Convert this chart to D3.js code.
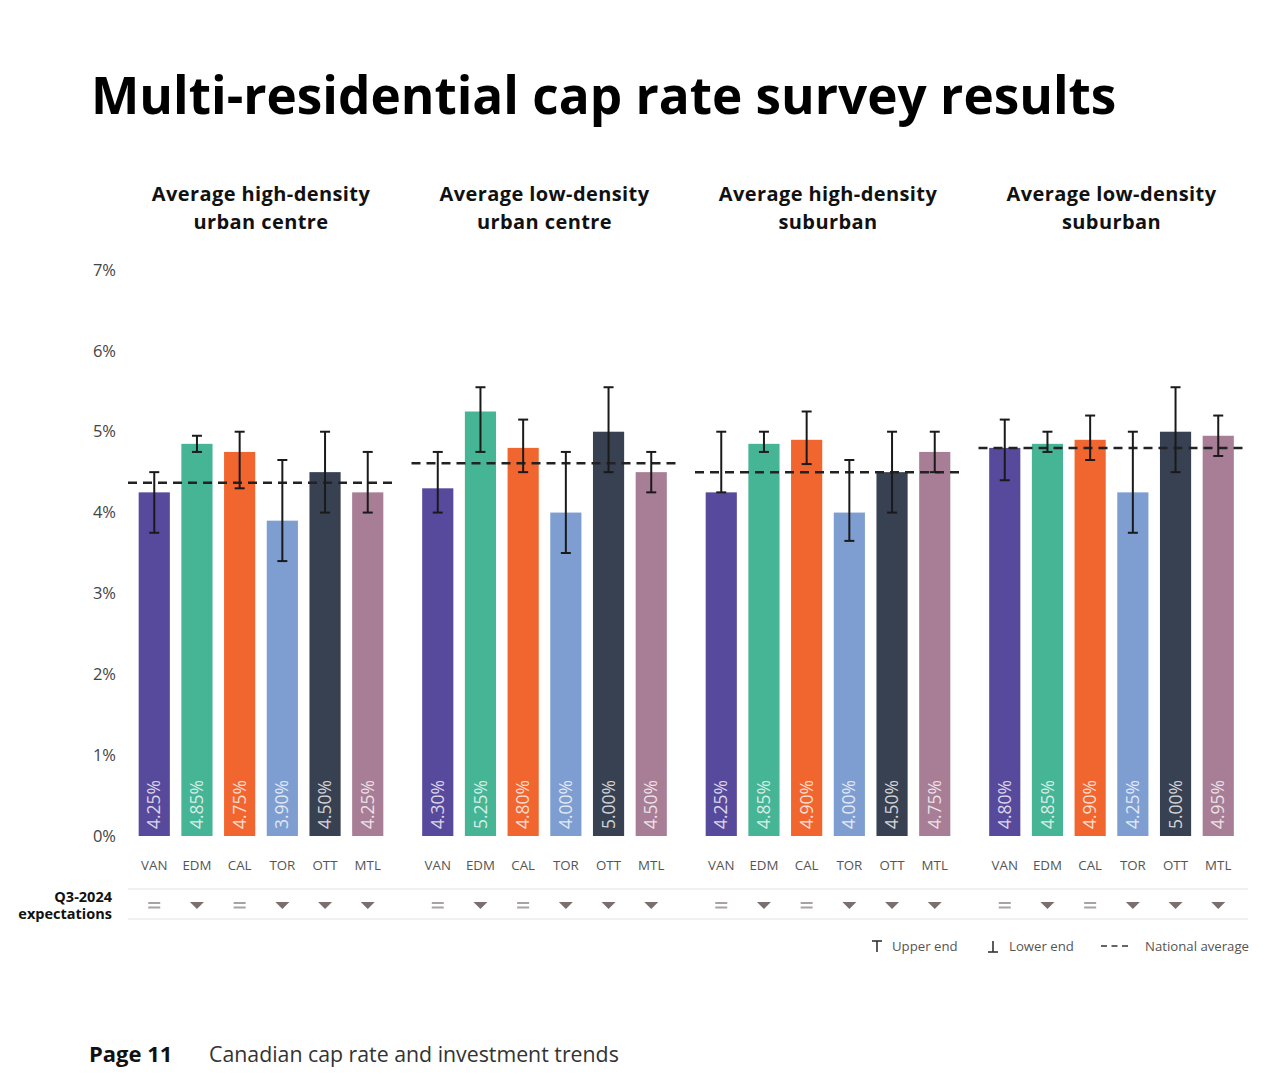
<!DOCTYPE html>
<html>
<head>
<meta charset="utf-8">
<title>Multi-residential cap rate survey results</title>
<script src="https://cdn.jsdelivr.net/npm/d3@7"></script>
<style>
  html, body { margin: 0; padding: 0; background: #fff; }
  svg { display: block; font-family: "Open Sans", "Noto Sans", sans-serif; }
</style>
</head>
<body>
<svg id="chart" width="1280" height="1083"></svg>
<script>
// ---- data ----
var groups = [
  ["Average high-density", "urban centre"],
  ["Average low-density", "urban centre"],
  ["Average high-density", "suburban"],
  ["Average low-density", "suburban"]
];
var cities = ["VAN", "EDM", "CAL", "TOR", "OTT", "MTL"];
var cityColors = ["#574a9d", "#45b596", "#f1652e", "#7e9ed2", "#374152", "#a77e96"];

// average cap rate (%), one row per group, one column per city
var values = [
  [4.25, 4.85, 4.75, 3.90, 4.50, 4.25],
  [4.30, 5.25, 4.80, 4.00, 5.00, 4.50],
  [4.25, 4.85, 4.90, 4.00, 4.50, 4.75],
  [4.80, 4.85, 4.90, 4.25, 5.00, 4.95]
];
var upperEnd = [
  [4.50, 4.95, 5.00, 4.65, 5.00, 4.75],
  [4.75, 5.55, 5.15, 4.75, 5.55, 4.75],
  [5.00, 5.00, 5.25, 4.65, 5.00, 5.00],
  [5.15, 5.00, 5.20, 5.00, 5.55, 5.20]
];
var lowerEnd = [
  [3.75, 4.75, 4.30, 3.40, 4.00, 4.00],
  [4.00, 4.75, 4.50, 3.50, 4.50, 4.25],
  [4.25, 4.75, 4.60, 3.65, 4.00, 4.50],
  [4.40, 4.75, 4.65, 3.75, 4.50, 4.70]
];
var nationalAvg = [4.37, 4.61, 4.50, 4.80];

// Q3-2024 expectations: "flat" or "down"
var expectations = [
  ["flat", "down", "flat", "down", "down", "down"],
  ["flat", "down", "flat", "down", "down", "down"],
  ["flat", "down", "flat", "down", "down", "down"],
  ["flat", "down", "flat", "down", "down", "down"]
];
var yTicks = [0, 1, 2, 3, 4, 5, 6, 7];

// ---- layout ----
var svg = d3.select("#chart");

var y = d3.scaleLinear().domain([0, 7]).range([836, 270]);

var gx = d3.scaleBand()
  .domain(d3.range(groups.length))
  .range([118, 1252]);

var cx = d3.scaleBand()
  .domain(cities)
  .range([10, 276])
  .paddingInner(0.27)
  .paddingOuter(0.25);

// title
svg.append("text")
  .attr("x", 91).attr("y", 114)
  .attr("font-size", 51.3).attr("font-weight", 700)
  .attr("fill", "#000")
  .text("Multi-residential cap rate survey results");

// y axis labels
svg.append("g").selectAll("text")
  .data(yTicks)
  .enter().append("text")
  .attr("x", 116)
  .attr("y", function(d) { return y(d); })
  .attr("dy", "0.35em")
  .attr("text-anchor", "end")
  .attr("font-size", 16.5)
  .attr("fill", "#444")
  .text(function(d) { return d + "%"; });

// each group
var g = svg.selectAll(".grp")
  .data(groups)
  .enter().append("g")
  .attr("class", "grp")
  .attr("transform", function(d, i) { return "translate(" + gx(i) + ",0)"; });

var groupMid = (cx(cities[0]) + cx(cities[5]) + cx.bandwidth()) / 2;

// group titles, one text per line
g.each(function(lines) {
  d3.select(this).selectAll("text.gtitle").data(lines).enter().append("text")
    .attr("class", "gtitle")
    .attr("x", groupMid)
    .attr("y", function(d, k) { return 201 + k * 27.5; })
    .attr("text-anchor", "middle")
    .attr("font-size", 20).attr("font-weight", 700)
    .attr("letter-spacing", 0.4)
    .attr("fill", "#111")
    .text(function(d) { return d; });
});

// bars
g.each(function(lines, gi) {
  var sel = d3.select(this);
  var rows = cities.map(function(c, k) {
    return { city: c, k: k, v: values[gi][k], hi: upperEnd[gi][k], lo: lowerEnd[gi][k], exp: expectations[gi][k] };
  });
  var mid = function(d) { return cx(d.city) + cx.bandwidth() / 2; };

  sel.selectAll("rect.bar").data(rows).enter().append("rect")
    .attr("class", "bar")
    .attr("x", function(d) { return cx(d.city); })
    .attr("y", function(d) { return y(d.v); })
    .attr("width", cx.bandwidth())
    .attr("height", function(d) { return y(0) - y(d.v); })
    .attr("fill", function(d) { return cityColors[d.k]; });

  // value labels (rotated)
  sel.selectAll("text.val").data(rows).enter().append("text")
    .attr("class", "val")
    .attr("transform", function(d) {
      return "translate(" + mid(d) + "," + (y(0) - 7) + ") rotate(-90)";
    })
    .attr("dy", "0.35em")
    .attr("font-size", 17.5)
    .attr("fill", "#fff")
    .attr("fill-opacity", 0.78)
    .text(function(d) { return d.v.toFixed(2) + "%"; });

  // national average dashed line
  sel.append("line")
    .attr("x1", cx.range()[0]).attr("x2", cx.range()[1])
    .attr("y1", y(nationalAvg[gi])).attr("y2", y(nationalAvg[gi]))
    .attr("stroke", "#222").attr("stroke-width", 2.5)
    .attr("stroke-dasharray", "9,6");

  // error bars
  var eb = sel.selectAll("g.err").data(rows).enter().append("g")
    .attr("class", "err")
    .attr("stroke", "#1a1a1a").attr("stroke-width", 2);
  eb.append("line")
    .attr("x1", mid).attr("x2", mid)
    .attr("y1", function(d) { return y(d.hi); })
    .attr("y2", function(d) { return y(d.lo); });
  eb.append("line")
    .attr("x1", function(d) { return mid(d) - 5; }).attr("x2", function(d) { return mid(d) + 5; })
    .attr("y1", function(d) { return y(d.hi); }).attr("y2", function(d) { return y(d.hi); });
  eb.append("line")
    .attr("x1", function(d) { return mid(d) - 5; }).attr("x2", function(d) { return mid(d) + 5; })
    .attr("y1", function(d) { return y(d.lo); }).attr("y2", function(d) { return y(d.lo); });

  // city labels
  sel.selectAll("text.city").data(rows).enter().append("text")
    .attr("class", "city")
    .attr("x", mid)
    .attr("y", 870)
    .attr("text-anchor", "middle")
    .attr("font-size", 13.3)
    .attr("fill", "#555")
    .text(function(d) { return d.city; });

  // expectation symbols
  var ex = sel.selectAll("g.exp").data(rows).enter().append("g")
    .attr("class", "exp")
    .attr("transform", function(d) { return "translate(" + mid(d) + ",905)"; });
  ex.filter(function(d) { return d.exp === "flat"; }).each(function() {
    var e = d3.select(this);
    e.append("line").attr("x1", -6).attr("x2", 6).attr("y1", -2).attr("y2", -2)
      .attr("stroke", "#a8a2a2").attr("stroke-width", 2);
    e.append("line").attr("x1", -6).attr("x2", 6).attr("y1", 2.5).attr("y2", 2.5)
      .attr("stroke", "#a8a2a2").attr("stroke-width", 2);
  });
  ex.filter(function(d) { return d.exp === "down"; }).append("path")
    .attr("d", "M-7,-3L7,-3L0,4Z")
    .attr("fill", "#7b6e6f");
});

// expectations row rules and label
[889, 919].forEach(function(yy) {
  svg.append("line")
    .attr("x1", 128).attr("x2", 1248)
    .attr("y1", yy).attr("y2", yy)
    .attr("stroke", "#e2e2e2").attr("stroke-width", 1);
});
svg.append("text")
  .attr("x", 112).attr("y", 902)
  .attr("text-anchor", "end")
  .attr("font-size", 14.5).attr("font-weight", 700).attr("fill", "#111")
  .text("Q3-2024");
svg.append("text")
  .attr("x", 112).attr("y", 919)
  .attr("text-anchor", "end")
  .attr("font-size", 14.5).attr("font-weight", 700).attr("fill", "#111")
  .text("expectations");

// legend
var lg = svg.append("g").attr("font-size", 13.2).attr("fill", "#555");
var ls = svg.append("g").attr("stroke", "#333").attr("stroke-width", 1.6);
ls.append("line").attr("x1", 872).attr("x2", 882).attr("y1", 941).attr("y2", 941);
ls.append("line").attr("x1", 877).attr("x2", 877).attr("y1", 941).attr("y2", 952);
lg.append("text").attr("x", 892).attr("y", 951).text("Upper end");
ls.append("line").attr("x1", 988).attr("x2", 998).attr("y1", 952).attr("y2", 952);
ls.append("line").attr("x1", 993).attr("x2", 993).attr("y1", 941).attr("y2", 952);
lg.append("text").attr("x", 1009).attr("y", 951).text("Lower end");
ls.append("line").attr("x1", 1101).attr("x2", 1131).attr("y1", 946).attr("y2", 946)
  .attr("stroke-dasharray", "6,4.5");
lg.append("text").attr("x", 1145).attr("y", 951).text("National average");

// footer
svg.append("text")
  .attr("x", 89).attr("y", 1062)
  .attr("font-size", 22).attr("font-weight", 700).attr("fill", "#111")
  .text("Page 11");
svg.append("text")
  .attr("x", 209).attr("y", 1062)
  .attr("font-size", 21.3).attr("fill", "#333")
  .text("Canadian cap rate and investment trends");
</script>
</body>
</html>
